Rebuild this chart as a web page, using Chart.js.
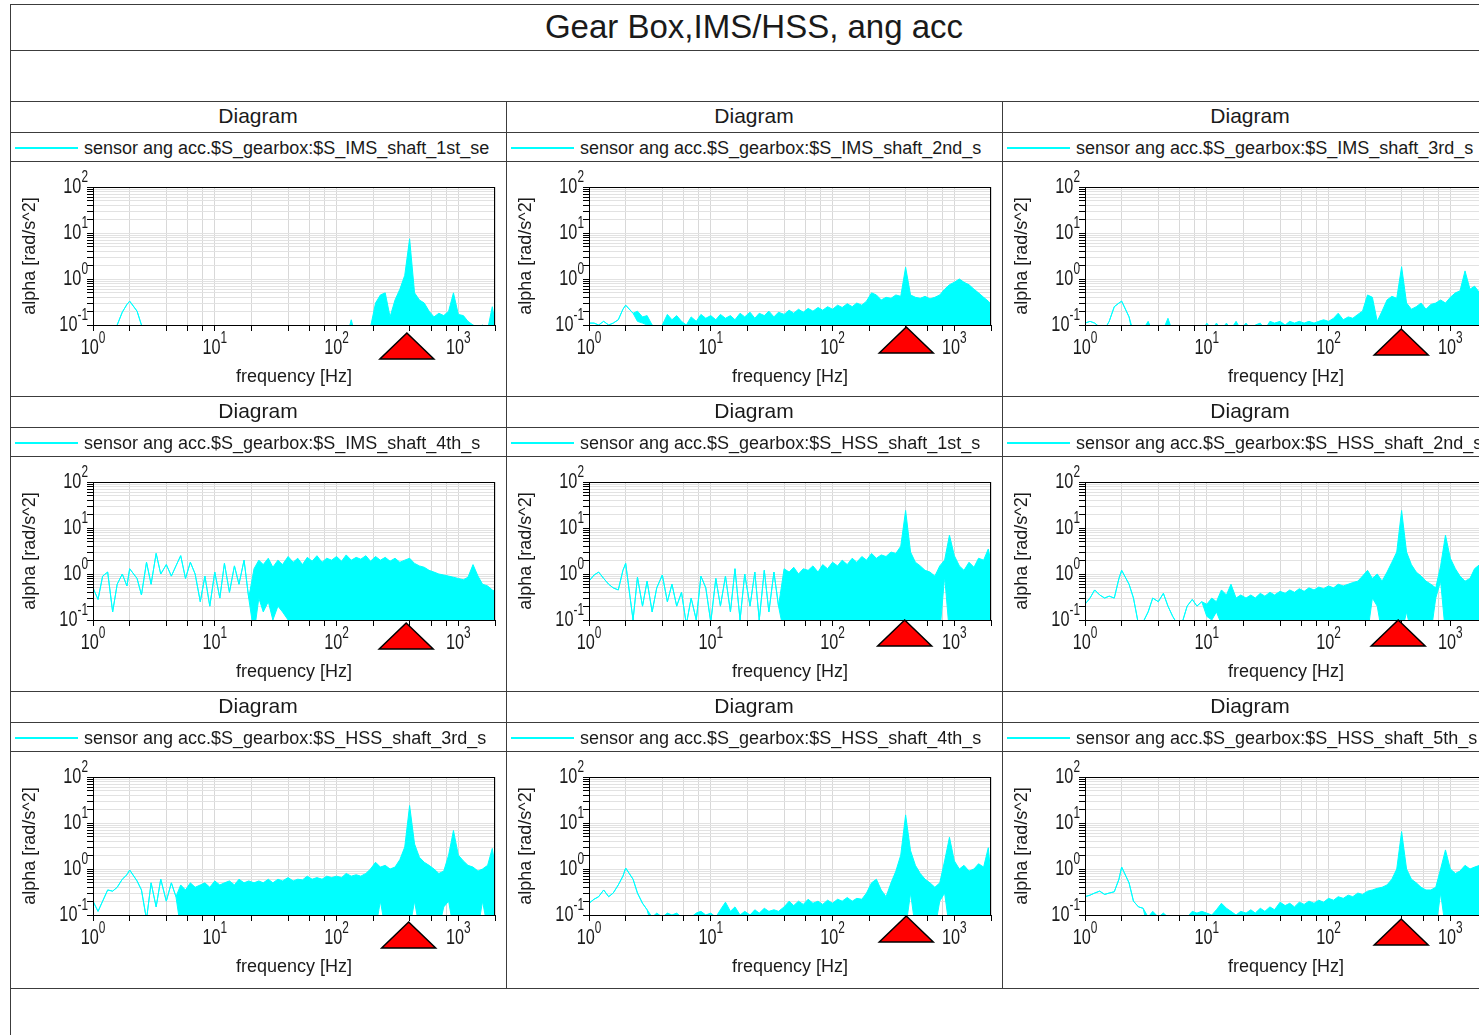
<!DOCTYPE html>
<html>
<head>
<meta charset="utf-8">
<script src="https://cdn.jsdelivr.net/npm/chart.js@4.4.0/dist/chart.umd.min.js"></script>
<style>
  html, body { margin: 0; padding: 0; background: #fff; }
  body { width: 1479px; height: 1035px; overflow: hidden; position: relative;
         font-family: "Liberation Sans", Arial, Helvetica, sans-serif; color: #1a1a1a; }
  .ln { position: absolute; background: #3c3c3c; }
  .txt { position: absolute; white-space: nowrap; overflow: hidden; }
  canvas { position: absolute; }
</style>
</head>
<body>
<script>
// frequency grid shared by all nine spectra [Hz]
const freqHz = [
  1, 1.1, 1.2, 1.32, 1.45, 1.58, 1.74, 1.9, 2.0, 2.3,
  2.5, 2.75, 3.0, 3.3, 3.6, 4.0, 4.4, 4.8, 5.25, 5.75,
  6.3, 6.9, 7.6, 8.3, 9.1, 10, 11, 12, 13.2, 14.5,
  15.8, 17.4, 19, 21, 23, 25, 27.5, 30, 33, 36,
  40, 44, 48, 52.5, 57.5, 63, 69, 76, 83, 91,
  100, 110, 120, 132, 145, 158, 174, 190, 209, 229,
  251, 275, 302, 331, 363, 398, 437, 479, 525, 575,
  631, 692, 759, 832, 912, 1000, 1100, 1200, 1320, 1450,
  1580, 1740, 1900, 2000
];

// upper / lower edge of each trace [rad/s^2]  (values under 0.1 sit below the axis)
const IMS1_top = [
  0.05, 0.05, 0.05, 0.05, 0.05, 0.1, 0.19, 0.28, 0.33, 0.2,
  0.1, 0.05, 0.05, 0.05, 0.05, 0.05, 0.05, 0.05, 0.05, 0.05,
  0.05, 0.05, 0.05, 0.05, 0.05, 0.05, 0.05, 0.05, 0.05, 0.05,
  0.05, 0.05, 0.05, 0.05, 0.05, 0.05, 0.05, 0.05, 0.05, 0.05,
  0.05, 0.05, 0.05, 0.05, 0.05, 0.05, 0.05, 0.05, 0.05, 0.05,
  0.05, 0.05, 0.05, 0.13, 0.05, 0.05, 0.05, 0.09, 0.3, 0.45,
  0.5, 0.15, 0.35, 0.6, 1.2, 7.5, 0.5, 0.35, 0.3, 0.2,
  0.15, 0.18, 0.16, 0.2, 0.5, 0.17, 0.16, 0.12, 0.1, 0.09,
  0.1, 0.08, 0.25, 0.12
];
const IMS1_bottom = [
  0.05, 0.05, 0.05, 0.05, 0.05, 0.1, 0.19, 0.28, 0.33, 0.2,
  0.1, 0.05, 0.05, 0.05, 0.05, 0.05, 0.05, 0.05, 0.05, 0.05,
  0.05, 0.05, 0.05, 0.05, 0.05, 0.05, 0.05, 0.05, 0.05, 0.05,
  0.05, 0.05, 0.05, 0.05, 0.05, 0.05, 0.05, 0.05, 0.05, 0.05,
  0.05, 0.05, 0.05, 0.05, 0.05, 0.05, 0.05, 0.05, 0.05, 0.05,
  0.05, 0.05, 0.05, 0.05, 0.05, 0.05, 0.05, 0.05, 0.05, 0.05,
  0.05, 0.05, 0.05, 0.05, 0.05, 0.05, 0.05, 0.05, 0.05, 0.05,
  0.05, 0.05, 0.05, 0.05, 0.05, 0.05, 0.05, 0.05, 0.05, 0.05,
  0.05, 0.05, 0.05, 0.05
];

const IMS2_top = [
  0.11, 0.11, 0.1, 0.12, 0.1, 0.11, 0.13, 0.22, 0.27, 0.18,
  0.2, 0.15, 0.16, 0.1, 0.08, 0.1, 0.17, 0.13, 0.16, 0.12,
  0.1, 0.15, 0.12, 0.17, 0.14, 0.16, 0.13, 0.17, 0.14, 0.16,
  0.13, 0.18, 0.15, 0.19, 0.14, 0.18, 0.16, 0.2, 0.15, 0.19,
  0.17, 0.21, 0.18, 0.22, 0.19, 0.23, 0.2, 0.24, 0.21, 0.25,
  0.22, 0.27, 0.24, 0.29, 0.25, 0.3, 0.27, 0.33, 0.5, 0.45,
  0.35, 0.4, 0.38, 0.45, 0.42, 1.8, 0.45, 0.4, 0.38, 0.42,
  0.37, 0.4, 0.45, 0.6, 0.75, 0.85, 1.0, 0.85, 0.75, 0.6,
  0.5, 0.4, 0.33, 0.28
];
const IMS2_bottom = [
  0.11, 0.11, 0.1, 0.12, 0.1, 0.11, 0.13, 0.22, 0.27, 0.18,
  0.12, 0.11, 0.1, 0.05, 0.05, 0.05, 0.05, 0.05, 0.05, 0.05,
  0.05, 0.05, 0.05, 0.05, 0.05, 0.05, 0.05, 0.05, 0.05, 0.05,
  0.05, 0.05, 0.05, 0.05, 0.05, 0.05, 0.05, 0.05, 0.05, 0.05,
  0.05, 0.05, 0.05, 0.05, 0.05, 0.05, 0.05, 0.05, 0.05, 0.05,
  0.05, 0.05, 0.05, 0.05, 0.05, 0.05, 0.05, 0.05, 0.05, 0.05,
  0.05, 0.05, 0.05, 0.05, 0.05, 0.05, 0.05, 0.05, 0.05, 0.05,
  0.05, 0.05, 0.05, 0.05, 0.05, 0.05, 0.05, 0.05, 0.05, 0.05,
  0.05, 0.05, 0.05, 0.05
];

const IMS3_top = [
  0.11, 0.12, 0.11, 0.09, 0.08, 0.12, 0.25, 0.3, 0.33, 0.15,
  0.07, 0.07, 0.08, 0.12, 0.07, 0.07, 0.08, 0.14, 0.07, 0.07,
  0.07, 0.07, 0.07, 0.07, 0.07, 0.11, 0.08, 0.11, 0.08, 0.11,
  0.08, 0.12, 0.08, 0.11, 0.08, 0.1, 0.11, 0.08, 0.12, 0.11,
  0.12, 0.1, 0.12, 0.11, 0.12, 0.11, 0.12, 0.11, 0.12, 0.13,
  0.12, 0.14, 0.18, 0.13, 0.15, 0.14, 0.17, 0.2, 0.45, 0.4,
  0.12, 0.2, 0.35, 0.42, 0.38, 1.85, 0.3, 0.22, 0.25, 0.3,
  0.22, 0.28, 0.3, 0.35, 0.3, 0.4, 0.5, 0.55, 1.5, 0.6,
  0.7, 0.5, 0.55, 0.5
];
const IMS3_bottom = [
  0.11, 0.12, 0.11, 0.09, 0.08, 0.12, 0.25, 0.3, 0.33, 0.15,
  0.05, 0.05, 0.05, 0.05, 0.05, 0.05, 0.05, 0.05, 0.05, 0.05,
  0.05, 0.05, 0.05, 0.05, 0.05, 0.05, 0.05, 0.05, 0.05, 0.05,
  0.05, 0.05, 0.05, 0.05, 0.05, 0.05, 0.05, 0.05, 0.05, 0.05,
  0.05, 0.05, 0.05, 0.05, 0.05, 0.05, 0.05, 0.05, 0.05, 0.05,
  0.05, 0.05, 0.05, 0.05, 0.05, 0.05, 0.05, 0.05, 0.05, 0.05,
  0.05, 0.05, 0.05, 0.05, 0.05, 0.05, 0.05, 0.05, 0.05, 0.05,
  0.05, 0.05, 0.05, 0.05, 0.05, 0.05, 0.05, 0.05, 0.05, 0.05,
  0.05, 0.05, 0.05, 0.05
];

const IMS4_top = [
  0.5, 0.28, 0.9, 1.1, 0.15, 0.6, 1.0, 0.55, 1.3, 0.8,
  0.35, 1.8, 0.6, 2.8, 1.0, 1.6, 0.9, 1.5, 2.5, 0.8,
  1.8, 1.0, 0.25, 0.9, 0.2, 1.1, 0.3, 1.7, 0.4, 1.5,
  0.6, 2.0, 0.3, 1.3, 2.0, 1.6, 2.2, 1.4, 2.0, 1.6,
  2.4, 1.8, 2.2, 1.6, 2.3, 1.9, 2.5, 1.8, 2.2, 2.0,
  2.4, 1.9, 2.6, 2.0, 2.3, 2.1, 2.5, 1.9, 2.4, 2.0,
  2.3, 1.9, 2.2, 1.8, 2.0, 2.2, 1.7, 1.5, 1.4, 1.2,
  1.1, 1.0, 0.95, 0.9, 0.85, 0.8, 0.75, 0.85, 1.6, 0.9,
  0.6, 0.55, 0.45, 0.42
];
const IMS4_bottom = [
  0.5, 0.28, 0.9, 1.1, 0.15, 0.6, 1.0, 0.55, 1.3, 0.8,
  0.35, 1.8, 0.6, 2.8, 1.0, 1.6, 0.9, 1.5, 2.5, 0.8,
  1.8, 1.0, 0.25, 0.9, 0.2, 1.1, 0.3, 1.7, 0.4, 1.5,
  0.6, 2.0, 0.3, 0.05, 0.3, 0.15, 0.25, 0.1, 0.2, 0.15,
  0.1, 0.05, 0.05, 0.05, 0.05, 0.05, 0.05, 0.05, 0.05, 0.05,
  0.05, 0.05, 0.05, 0.05, 0.05, 0.05, 0.05, 0.05, 0.05, 0.05,
  0.05, 0.05, 0.05, 0.05, 0.05, 0.05, 0.05, 0.05, 0.05, 0.05,
  0.05, 0.05, 0.05, 0.05, 0.05, 0.05, 0.05, 0.05, 0.05, 0.05,
  0.05, 0.05, 0.05, 0.05
];

const HSS1_top = [
  0.7, 0.95, 1.1, 0.8, 0.6, 0.5, 0.45, 1.2, 1.7, 0.1,
  0.85, 0.2, 0.7, 0.15, 0.5, 0.95, 0.25, 0.6, 0.2, 0.4,
  0.08, 0.3, 0.1, 0.9, 0.5, 0.09, 0.8, 0.2, 0.9, 0.15,
  1.3, 0.1, 1.0, 0.2, 1.1, 0.1, 1.2, 0.15, 1.1, 0.2,
  1.3, 1.1, 1.4, 1.0, 1.3, 1.2, 1.5, 1.1, 1.6, 1.3,
  1.8, 1.5, 2.0, 1.6, 2.2, 1.8, 2.4, 2.0, 2.8, 2.2,
  2.6, 2.4, 3.0, 2.8, 4.0, 24, 3.0, 1.8, 1.5, 1.2,
  1.1, 0.9, 1.5, 2.0, 7.0, 2.5, 1.5, 1.2, 1.8, 1.4,
  2.2, 2.0, 3.5, 1.8
];
const HSS1_bottom = [
  0.7, 0.95, 1.1, 0.8, 0.6, 0.5, 0.45, 1.2, 1.7, 0.1,
  0.85, 0.2, 0.7, 0.15, 0.5, 0.95, 0.25, 0.6, 0.2, 0.4,
  0.08, 0.3, 0.1, 0.9, 0.5, 0.09, 0.8, 0.2, 0.9, 0.15,
  1.3, 0.1, 1.0, 0.2, 1.1, 0.1, 1.2, 0.15, 1.1, 0.2,
  0.05, 0.05, 0.05, 0.05, 0.05, 0.05, 0.05, 0.05, 0.05, 0.05,
  0.05, 0.05, 0.05, 0.05, 0.05, 0.05, 0.05, 0.05, 0.05, 0.05,
  0.05, 0.05, 0.05, 0.05, 0.05, 0.05, 0.05, 0.05, 0.05, 0.05,
  0.05, 0.05, 0.05, 0.9, 0.05, 0.05, 0.05, 0.05, 0.05, 0.05,
  0.05, 0.05, 0.05, 0.05
];

const HSS2_top = [
  0.22, 0.3, 0.45, 0.35, 0.3, 0.33, 0.3, 0.8, 1.2, 0.6,
  0.3, 0.08, 0.09, 0.15, 0.3, 0.25, 0.38, 0.2, 0.12, 0.08,
  0.09, 0.2, 0.28, 0.2, 0.25, 0.22, 0.3, 0.25, 0.45, 0.35,
  0.6, 0.3, 0.35, 0.3, 0.35, 0.3, 0.38, 0.33, 0.4, 0.35,
  0.42, 0.38, 0.45, 0.4, 0.48, 0.42, 0.5, 0.45, 0.52, 0.48,
  0.55, 0.5, 0.6, 0.55, 0.6, 0.65, 0.7, 0.9, 1.2, 0.8,
  1.0, 0.7, 1.1, 1.8, 3.0, 24, 3.0, 1.6, 1.1, 0.9,
  0.7, 0.6, 0.5, 1.5, 7.0, 2.2, 1.3, 0.9, 0.7, 0.8,
  1.3, 1.6, 2.0, 1.8
];
const HSS2_bottom = [
  0.22, 0.3, 0.45, 0.35, 0.3, 0.33, 0.3, 0.8, 1.2, 0.6,
  0.3, 0.08, 0.09, 0.15, 0.3, 0.25, 0.38, 0.2, 0.12, 0.08,
  0.09, 0.2, 0.28, 0.2, 0.25, 0.12, 0.1, 0.15, 0.08, 0.1,
  0.05, 0.1, 0.05, 0.05, 0.05, 0.05, 0.05, 0.05, 0.05, 0.05,
  0.05, 0.05, 0.05, 0.05, 0.05, 0.05, 0.05, 0.05, 0.05, 0.05,
  0.05, 0.05, 0.05, 0.05, 0.05, 0.05, 0.05, 0.05, 0.05, 0.3,
  0.2, 0.05, 0.05, 0.05, 0.05, 0.05, 0.15, 0.05, 0.05, 0.05,
  0.05, 0.05, 0.3, 0.7, 0.05, 0.05, 0.05, 0.05, 0.05, 0.05,
  0.05, 0.05, 0.05, 0.05
];

const HSS3_top = [
  0.2, 0.12, 0.2, 0.35, 0.33, 0.4, 0.6, 0.75, 0.95, 0.55,
  0.35, 0.08, 0.5, 0.15, 0.6, 0.2, 0.5, 0.25, 0.45, 0.35,
  0.5, 0.4, 0.45, 0.5, 0.4, 0.55, 0.45, 0.5, 0.55, 0.45,
  0.6, 0.5, 0.55, 0.5, 0.55, 0.5, 0.6, 0.5, 0.6, 0.55,
  0.65, 0.55, 0.6, 0.58, 0.7, 0.6, 0.65, 0.6, 0.7, 0.65,
  0.7, 0.65, 0.8, 0.7, 0.75, 0.7, 0.8, 1.0, 1.4, 1.1,
  1.2, 1.0, 1.1, 1.6, 3.0, 24, 3.5, 1.8, 1.4, 1.2,
  1.0, 0.8, 0.9, 2.0, 6.9, 2.0, 1.5, 1.2, 1.1, 0.9,
  1.0, 1.2, 2.8, 1.2
];
const HSS3_bottom = [
  0.2, 0.12, 0.2, 0.35, 0.33, 0.4, 0.6, 0.75, 0.95, 0.55,
  0.35, 0.08, 0.5, 0.15, 0.6, 0.2, 0.5, 0.25, 0.05, 0.05,
  0.05, 0.05, 0.05, 0.05, 0.05, 0.05, 0.05, 0.05, 0.05, 0.05,
  0.05, 0.05, 0.05, 0.05, 0.05, 0.05, 0.05, 0.05, 0.05, 0.05,
  0.05, 0.05, 0.05, 0.05, 0.05, 0.05, 0.05, 0.05, 0.05, 0.05,
  0.05, 0.05, 0.05, 0.05, 0.05, 0.05, 0.05, 0.05, 0.05, 0.2,
  0.05, 0.05, 0.05, 0.05, 0.05, 0.05, 0.2, 0.05, 0.05, 0.05,
  0.05, 0.05, 0.15, 0.2, 0.05, 0.05, 0.05, 0.05, 0.05, 0.05,
  0.2, 0.05, 0.05, 0.05
];

const HSS4_top = [
  0.18, 0.22, 0.25, 0.35, 0.25, 0.3, 0.45, 0.7, 1.05, 0.6,
  0.3, 0.18, 0.13, 0.09, 0.11, 0.09, 0.11, 0.1, 0.11, 0.09,
  0.08, 0.09, 0.11, 0.12, 0.1, 0.11, 0.09, 0.13, 0.19, 0.12,
  0.15, 0.1, 0.12, 0.1, 0.13, 0.11, 0.14, 0.12, 0.13, 0.12,
  0.15, 0.2, 0.16, 0.2, 0.17, 0.22, 0.18, 0.2, 0.17, 0.21,
  0.18, 0.22, 0.2, 0.24, 0.2, 0.23, 0.22, 0.3, 0.5, 0.6,
  0.35, 0.25, 0.5, 0.9, 2.0, 15, 2.5, 1.2, 0.8, 0.6,
  0.5, 0.4, 0.5, 1.5, 4.9, 1.5, 1.0, 1.2, 0.9, 1.0,
  1.3, 1.1, 2.9, 0.7
];
const HSS4_bottom = [
  0.18, 0.22, 0.25, 0.35, 0.25, 0.3, 0.45, 0.7, 1.05, 0.6,
  0.3, 0.18, 0.13, 0.05, 0.05, 0.05, 0.05, 0.05, 0.05, 0.05,
  0.05, 0.05, 0.05, 0.05, 0.05, 0.05, 0.05, 0.05, 0.05, 0.05,
  0.05, 0.05, 0.05, 0.05, 0.05, 0.05, 0.05, 0.05, 0.05, 0.05,
  0.05, 0.05, 0.05, 0.05, 0.05, 0.05, 0.05, 0.05, 0.05, 0.05,
  0.05, 0.05, 0.05, 0.05, 0.05, 0.05, 0.05, 0.05, 0.05, 0.05,
  0.05, 0.05, 0.05, 0.05, 0.05, 0.05, 0.3, 0.05, 0.05, 0.05,
  0.05, 0.05, 0.2, 0.3, 0.05, 0.05, 0.05, 0.05, 0.05, 0.05,
  0.05, 0.05, 0.05, 0.05
];

const HSS5_top = [
  0.25, 0.27, 0.3, 0.33, 0.28, 0.3, 0.32, 0.6, 1.1, 0.5,
  0.2, 0.15, 0.14, 0.09, 0.12, 0.09, 0.11, 0.09, 0.08, 0.08,
  0.09, 0.09, 0.12, 0.11, 0.12, 0.11, 0.1, 0.13, 0.18, 0.14,
  0.12, 0.1, 0.12, 0.11, 0.13, 0.11, 0.14, 0.12, 0.15, 0.13,
  0.19, 0.16, 0.18, 0.15, 0.19, 0.17, 0.2, 0.18, 0.21, 0.19,
  0.23, 0.21, 0.25, 0.23, 0.27, 0.25, 0.3, 0.28, 0.33, 0.35,
  0.38, 0.4, 0.45, 0.6, 1.0, 6.5, 1.0, 0.6, 0.5, 0.4,
  0.35, 0.35, 0.4, 1.0, 2.6, 1.0, 0.8, 0.9, 1.2, 1.0,
  1.1, 1.2, 1.3, 1.3
];
const HSS5_bottom = [
  0.25, 0.27, 0.3, 0.33, 0.28, 0.3, 0.32, 0.6, 1.1, 0.5,
  0.2, 0.15, 0.14, 0.05, 0.05, 0.05, 0.05, 0.05, 0.05, 0.05,
  0.05, 0.05, 0.05, 0.05, 0.05, 0.05, 0.05, 0.05, 0.05, 0.05,
  0.05, 0.05, 0.05, 0.05, 0.05, 0.05, 0.05, 0.05, 0.05, 0.05,
  0.05, 0.05, 0.05, 0.05, 0.05, 0.05, 0.05, 0.05, 0.05, 0.05,
  0.05, 0.05, 0.05, 0.05, 0.05, 0.05, 0.05, 0.05, 0.05, 0.05,
  0.05, 0.05, 0.05, 0.05, 0.05, 0.05, 0.05, 0.05, 0.05, 0.05,
  0.05, 0.05, 0.05, 0.3, 0.05, 0.05, 0.05, 0.05, 0.05, 0.05,
  0.05, 0.05, 0.05, 0.05
];

const legendNames = [
  'sensor ang acc.$S_gearbox:$S_IMS_shaft_1st_se',
  'sensor ang acc.$S_gearbox:$S_IMS_shaft_2nd_s',
  'sensor ang acc.$S_gearbox:$S_IMS_shaft_3rd_s',
  'sensor ang acc.$S_gearbox:$S_IMS_shaft_4th_s',
  'sensor ang acc.$S_gearbox:$S_HSS_shaft_1st_s',
  'sensor ang acc.$S_gearbox:$S_HSS_shaft_2nd_s',
  'sensor ang acc.$S_gearbox:$S_HSS_shaft_3rd_s',
  'sensor ang acc.$S_gearbox:$S_HSS_shaft_4th_s',
  'sensor ang acc.$S_gearbox:$S_HSS_shaft_5th_s'
];
const traceTop = [IMS1_top, IMS2_top, IMS3_top, IMS4_top, HSS1_top, HSS2_top, HSS3_top, HSS4_top, HSS5_top];
const traceBottom = [IMS1_bottom, IMS2_bottom, IMS3_bottom, IMS4_bottom, HSS1_bottom, HSS2_bottom, HSS3_bottom, HSS4_bottom, HSS5_bottom];
// red marker frequency per diagram [Hz]
const markerHz = [378, 403, 395, 373, 391, 373, 391, 403, 395];

const xDecades = [0, 1, 2, 3];
const yDecades = [-1, 0, 1, 2];
const xSteps = [1, 2, 4, 6, 8];                 // x grid / ticks inside a decade
const ySteps = [1, 2, 3, 4, 5, 6, 7, 8, 9];     // y grid / ticks inside a decade
const X_MIN = 1, X_MAX = 2000, Y_MIN = 0.1, Y_MAX = 100;

// ---- styling / layout ----
const CYAN = '#00ffff';
const FONT = '"Liberation Sans", Arial, Helvetica, sans-serif';
const markerDrop = [8, 2, 4, 3, 0, 0, 7, 1, 4];
const COL_X = [10, 506, 1002];
const COL_W = 496;
const ROW_Y = [101, 396, 691];
const ROW_H = [295, 295, 297];

function line(x, y, w, h, color) {
  const d = document.createElement('div');
  d.className = 'ln';
  Object.assign(d.style, { left: x + 'px', top: y + 'px', width: w + 'px', height: h + 'px' });
  if (color) d.style.background = color;
  document.body.appendChild(d);
  return d;
}
function label(text, x, y, w, h, size, align) {
  const d = document.createElement('div');
  d.className = 'txt';
  d.textContent = text;
  Object.assign(d.style, { left: x + 'px', top: y + 'px', width: w + 'px', height: h + 'px',
    lineHeight: h + 'px', fontSize: size + 'px', textAlign: align });
  document.body.appendChild(d);
  return d;
}

// frame
line(10, 4, 1490, 1); line(10, 50, 1490, 1); line(10, 101, 1490, 1); line(10, 988, 1490, 1);
line(10, 4, 1, 1040);
line(506, 101, 1, 887); line(1002, 101, 1, 887);
label('Gear Box,IMS/HSS, ang acc', 10, 4, 1488, 45, 33, 'center');

// tick values m*10^e inside [min, max]
function logTicks(min, max, steps) {
  const out = [];
  for (let e = Math.floor(Math.log10(min)); e <= Math.ceil(Math.log10(max)); e++) {
    steps.forEach(m => {
      const v = +(m * Math.pow(10, e)).toPrecision(3);
      if (v >= min - 1e-9 && v <= max + 1e-9) out.push({ value: v });
    });
  }
  return out;
}

function drawPow(ctx, exp, x, y, align) {
  ctx.save();
  ctx.translate(x, y);
  ctx.scale(0.74, 1);
  ctx.font = '22px ' + FONT;
  const wb = ctx.measureText('10').width;
  ctx.font = '16px ' + FONT;
  const we = ctx.measureText(exp).width;
  const start = align === 'center' ? -(wb + we) / 2 : -(wb + we);
  ctx.textBaseline = 'alphabetic';
  ctx.textAlign = 'left';
  ctx.font = '22px ' + FONT;
  ctx.fillText('10', start, 0);
  ctx.font = '16px ' + FONT;
  ctx.fillText(exp, start + wb, -11);
  ctx.restore();
}

const decor = {
  id: 'decor',
  afterDatasetsDraw(chart, args, opts) {
    const { ctx, chartArea: a, scales: { x, y } } = chart;
    ctx.save();
    ctx.strokeStyle = '#000';
    ctx.lineWidth = 1;
    ctx.strokeRect(a.left + 0.5, a.top + 0.5, a.right - a.left - 1, a.bottom - a.top);
    ctx.fillStyle = '#1a1a1a';
    xDecades.forEach(d => drawPow(ctx, String(d), x.getPixelForValue(Math.pow(10, d)), a.bottom + 29, 'center'));
    yDecades.forEach(d => drawPow(ctx, String(d), a.left - 5, y.getPixelForValue(Math.pow(10, d)) + 6, 'right'));
    ctx.font = '18px ' + FONT;
    ctx.textAlign = 'center';
    ctx.textBaseline = 'middle';
    ctx.fillText('frequency [Hz]', (a.left + a.right) / 2, a.bottom + 52);
    ctx.save();
    ctx.translate(20, (a.top + a.bottom) / 2);
    ctx.rotate(-Math.PI / 2);
    ctx.fillText('alpha [rad/s^2]', 0, 0);
    ctx.restore();
    // red marker
    const px = x.getPixelForValue(opts.hz);
    const ty = a.bottom + opts.drop;
    ctx.beginPath();
    ctx.moveTo(px, ty);
    ctx.lineTo(px + 27, ty + 26);
    ctx.lineTo(px - 27, ty + 26);
    ctx.closePath();
    ctx.fillStyle = '#ff0000';
    ctx.fill();
    ctx.strokeStyle = '#000';
    ctx.lineWidth = 1.5;
    ctx.stroke();
    ctx.restore();
  }
};

for (let r = 0; r < 3; r++) {
  line(10, ROW_Y[r] + 31, 1490, 1);
  line(10, ROW_Y[r] + 60, 1490, 1);
  if (r > 0) line(10, ROW_Y[r], 1490, 1);
  for (let c = 0; c < 3; c++) {
    const i = r * 3 + c;
    const cx = COL_X[c], cy = ROW_Y[r];
    label('Diagram', cx, cy, COL_W, 29, 21, 'center');
    line(cx + 5, cy + 46, 63, 2, CYAN);
    label(legendNames[i], cx + 74, cy + 33, 412, 28, 18, 'left');

    const h = ROW_H[r] - 60;
    const cv = document.createElement('canvas');
    cv.width = COL_W; cv.height = h;
    cv.style.left = cx + 'px'; cv.style.top = (cy + 61) + 'px';
    cv.style.width = COL_W + 'px'; cv.style.height = h + 'px';
    document.body.appendChild(cv);

    const top = freqHz.map((f, k) => ({ x: f, y: traceTop[i][k] }));
    const bottom = freqHz.map((f, k) => ({ x: f, y: traceBottom[i][k] }));

    new Chart(cv, {
      type: 'line',
      data: {
        datasets: [
          { data: top, borderColor: CYAN, borderWidth: 1, pointRadius: 0, tension: 0, fill: false },
          { data: bottom, borderColor: CYAN, borderWidth: 1, pointRadius: 0, tension: 0,
            fill: '-1', backgroundColor: CYAN }
        ]
      },
      options: {
        responsive: false,
        animation: false,
        events: [],
        parsing: false,
        layout: { padding: { top: 25, right: 11, left: 0, bottom: 0 } },
        plugins: {
          legend: { display: false },
          tooltip: { enabled: false },
          decor: { hz: markerHz[i], drop: markerDrop[i] }
        },
        scales: {
          x: {
            type: 'logarithmic', min: X_MIN, max: X_MAX,
            afterBuildTicks: s => { s.ticks = logTicks(X_MIN, X_MAX, xSteps); },
            afterFit: s => { s.height = h - 163; },
            ticks: { display: false },
            grid: { color: '#d8d8d8', tickColor: '#000', tickLength: 6 },
            border: { display: false }
          },
          y: {
            type: 'logarithmic', min: Y_MIN, max: Y_MAX,
            afterBuildTicks: s => { s.ticks = logTicks(Y_MIN, Y_MAX, ySteps); },
            afterFit: s => { s.width = 83; },
            ticks: { display: false },
            grid: { color: '#e2e2e2', tickColor: '#000', tickLength: 6 },
            border: { display: false }
          }
        }
      },
      plugins: [decor]
    });
  }
}
</script>
</body>
</html>
